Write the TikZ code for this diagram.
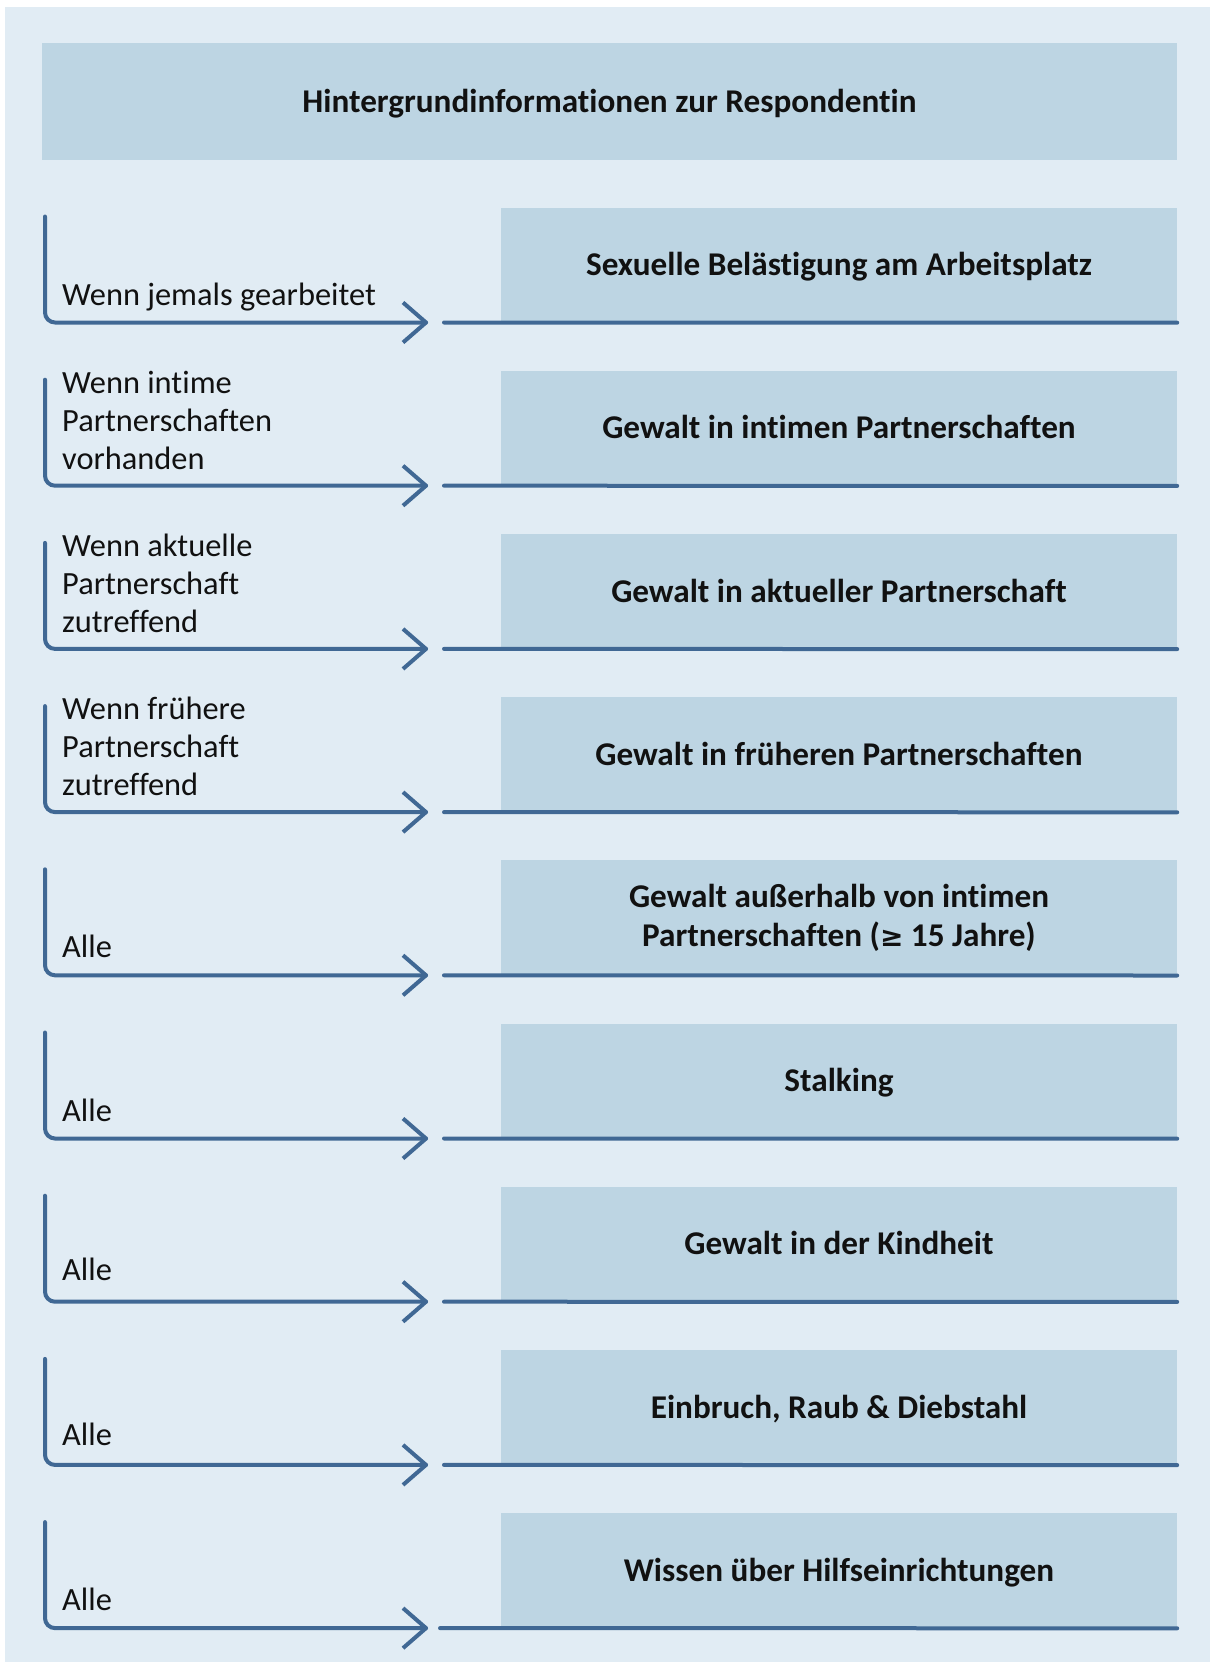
\documentclass[tikz,border=0pt]{standalone}
\usepackage{fontspec}
\setmainfont[Ligatures=NoCommon]{Carlito}
\newfontfamily\symf{DejaVu Sans}
\definecolor{panelbg}{HTML}{E1ECF4}
\definecolor{boxbg}{HTML}{BDD5E3}
\definecolor{lineblue}{HTML}{406894}
\definecolor{txt}{HTML}{111111}
\tikzset{
  boxst/.style={fill=boxbg, minimum width=676pt, minimum height=115pt, inner sep=0pt,
    align=center, text=txt, font=\bfseries\fontsize{33.2}{39}\selectfont},
  oneline/.style={text height=21.5pt, text depth=0pt},
  twoline/.style={},
  hdrst/.style={fill=boxbg, minimum width=1135pt, minimum height=117pt, inner sep=0pt,
    align=center, text=txt, text height=21.5pt, text depth=0pt,
    font=\bfseries\fontsize{33.2}{39}\selectfont},
  lbl/.style={anchor=south west, inner sep=0pt, text depth=0pt, align=left, text=txt,
    font=\fontsize{32.4}{38}\selectfont},
  conn/.style={draw=lineblue, line width=4pt, rounded corners=10pt, line cap=round},
  chev/.style={draw=lineblue, line width=4pt, line join=round},
  uline/.style={draw=lineblue, line width=4pt, line cap=round},
}
\newcommand\drow[7]{%
  \node[boxst,#7] (b#1) at (839,#2-57.5) {#5};
  \coordinate (s#1) at (45,#2-106);
  \coordinate (t#1) at (426,#2);
  \coordinate (u#1) at (#6,#2);
  \node[lbl] (l#1) at (62,#2-#3) {#4};
  \draw[conn] (s#1) |- (t#1);
  \draw[chev] ([shift={(-23,-20)}]t#1) -- (t#1) -- ([shift={(-23,20)}]t#1);
  \draw[uline] (u#1) -- (b#1.south east);
}
\begin{document}
\begin{tikzpicture}[x=1pt,y=-1pt]
\useasboundingbox (0,0) rectangle (1210,1662);
\fill[white] (0,0) rectangle (1210,1662);
\fill[panelbg] (4.6,7) rectangle (1210,1662);
\node[hdrst] (hdr) at (609.5,101.5) {Hintergrundinformationen zur Respondentin};
\drow{1}{322.5}{17}{Wenn jemals gearbeitet}{Sexuelle Belästigung am Arbeitsplatz}{444}{oneline}
\drow{2}{485.7}{16}{Wenn intime\\Partnerschaften\\vorhanden}{Gewalt in intimen Partnerschaften}{444}{oneline}
\drow{3}{648.9}{16.5}{Wenn aktuelle\\Partnerschaft\\zutreffend}{Gewalt in aktueller Partnerschaft}{444}{oneline}
\drow{4}{812.1}{16}{Wenn frühere\\Partnerschaft\\zutreffend}{Gewalt in früheren Partnerschaften}{444}{oneline}
\drow{5}{975.3}{17.5}{Alle}{Gewalt außerhalb von intimen\\Partnerschaften ({\symf\fontsize{28}{39}\selectfont ≥} 15 Jahre)}{444}{twoline}
\drow{6}{1138.5}{17.3}{Alle}{Stalking}{444}{oneline}
\drow{7}{1301.7}{21}{Alle}{Gewalt in der Kindheit}{444}{oneline}
\drow{8}{1464.9}{19}{Alle}{Einbruch, Raub \& Diebstahl}{444}{oneline}
\drow{9}{1628.1}{17}{Alle}{Wissen über Hilfseinrichtungen}{440}{oneline}
\end{tikzpicture}
\end{document}
